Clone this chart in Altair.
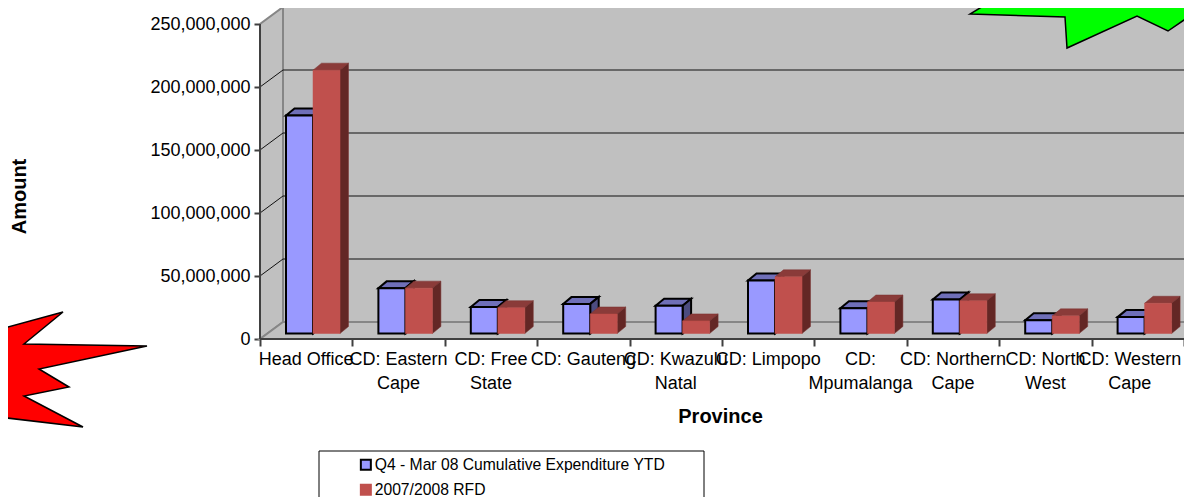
import altair as alt
import pandas as pd

categories = ["Head Office", "CD: Eastern\nCape", "CD: Free\nState", "CD: Gauteng", "CD: Kwazulu\nNatal",
              "CD: Limpopo", "CD:\nMpumalanga", "CD: Northern\nCape", "CD: North\nWest", "CD: Western\nCape"]
expenditure = [173e6, 36e6, 21e6, 23.5e6, 22e6, 42e6, 20e6, 27e6, 10.5e6, 13e6]
rfd = [209e6, 36e6, 20.5e6, 15.5e6, 10e6, 45e6, 25e6, 26e6, 14e6, 24e6]
series_names = ["Q4 - Mar 08 Cumulative Expenditure YTD", "2007/2008 RFD"]
y_ticks = [0, 50e6, 100e6, 150e6, 200e6, 250e6]
x_ticks = list(range(11))

FONT = "Liberation Sans"
PX_CAT = 92.4
PX_VAL = 63 / 50e6
XS = alt.Scale(domain=[0, 10])
YS = alt.Scale(domain=[0, 331 / PX_VAL])
WX, WY = 23 / PX_CAT, 17 / PX_VAL       # wall depth
DX, DY = 8.5 / PX_CAT, 7 / PX_VAL       # bar depth
BASE = 5.5 / PX_VAL
LEFT, BW = 26 / PX_CAT, 27 / PX_CAT
WALL = "#C0C0C0"
EDGE = "#868686"
AXIS = "#404040"

XA = alt.Axis(values=x_ticks, labels=False, domain=False, grid=False, title="Province", titleFont=FONT,
              titleFontSize=20, titleFontWeight="bold", titleColor="black", titleX=460, titleY=67,
              tickColor=AXIS, tickWidth=2, tickSize=7)
YA = alt.Axis(values=y_ticks, labelExpr="format(datum.value, ',')", domain=False, grid=False, title="Amount",
              titleFont=FONT, titleFontSize=20, titleFontWeight="bold", titleColor="black", titleX=-231, titleY=188,
              labelFont=FONT, labelFontSize=18, labelColor="black", tickColor=AXIS, tickWidth=2, tickSize=6,
              labelPadding=4)


def x_(f):
    return alt.X(f, type="quantitative", scale=XS, axis=XA)


def y_(f):
    return alt.Y(f, type="quantitative", scale=YS, axis=YA)


# walls
back = alt.Chart(pd.DataFrame({"x": [WX], "x2": [10 + WX], "y": [WY], "y2": [250e6 + WY]})).mark_rect(
    fill=WALL, stroke=EDGE, strokeWidth=2
).encode(x=x_("x"), x2=alt.X2("x2"), y=y_("y"), y2=alt.Y2("y2"))
side = alt.Chart(pd.DataFrame({"x": [0, WX], "y": [0, WY], "y2": [250e6, 250e6 + WY]})).mark_area(
    orient="vertical", fill=WALL, stroke=EDGE, strokeWidth=2
).encode(x=x_("x"), y=y_("y"), y2=alt.Y2("y2"))
floor = alt.Chart(pd.DataFrame({"y": [0, WY], "x": [0, WX], "x2": [10, 10 + WX]})).mark_area(
    orient="horizontal", fill=WALL, stroke=EDGE, strokeWidth=2
).encode(y=y_("y"), x=x_("x"), x2=alt.X2("x2"))

# gridlines
grid_rows = []
for v in y_ticks[1:-1]:
    grid_rows += [{"v": v, "o": 0, "x": 0, "y": v}, {"v": v, "o": 1, "x": WX, "y": v + WY},
                  {"v": v, "o": 2, "x": 10 + WX, "y": v + WY}]
grid = alt.Chart(pd.DataFrame(grid_rows)).mark_line(color="#111111", strokeWidth=1).encode(
    x=x_("x"), y=y_("y"), detail="v:N", order="o:Q")

# front axis lines
axis_v = alt.Chart(pd.DataFrame({"x": [0], "y": [0], "y2": [250e6]})).mark_rule(color=AXIS, strokeWidth=2).encode(
    x=x_("x"), y=y_("y"), y2=alt.Y2("y2"))
axis_h = alt.Chart(pd.DataFrame({"x": [0], "x2": [10], "y": [0]})).mark_rule(color=AXIS, strokeWidth=2).encode(
    x=x_("x"), x2=alt.X2("x2"), y=y_("y"))


# bars
def faces(values, name, shift, top_c, side_c, sw, stroke):
    tops, sides, fronts = [], [], []
    for i, v in enumerate(values):
        l, r, t = i + LEFT + shift, i + LEFT + shift + BW, BASE + v
        tops += [{"c": i, "y": t, "x": l, "x2": r}, {"c": i, "y": t + DY, "x": l + DX, "x2": r + DX}]
        sides += [{"c": i, "x": r, "y": BASE, "y2": t}, {"c": i, "x": r + DX, "y": BASE + DY, "y2": t + DY}]
        fronts.append({"series": name, "x": l, "x2": r, "y": BASE, "y2": t})
    top = alt.Chart(pd.DataFrame(tops)).mark_area(orient="horizontal", fill=top_c, stroke=stroke, strokeWidth=sw).encode(
        y=y_("y"), x=x_("x"), x2=alt.X2("x2"), detail="c:N")
    sid = alt.Chart(pd.DataFrame(sides)).mark_area(orient="vertical", fill=side_c, stroke=stroke, strokeWidth=sw).encode(
        x=x_("x"), y=y_("y"), y2=alt.Y2("y2"), detail="c:N")
    legend = alt.Legend(title=None, orient="none", legendX=98, legendY=449, symbolType="square", symbolSize=100,
                        symbolStrokeWidth=2, symbolOpacity=1, labelFont=FONT, labelFontSize=15.7, labelColor="black",
                        labelLimit=400, rowPadding=6, labelOffset=1, padding=0)
    front = alt.Chart(pd.DataFrame(fronts)).mark_rect(strokeWidth=sw, opacity=1).encode(
        x=x_("x"), x2=alt.X2("x2"), y=y_("y"), y2=alt.Y2("y2"),
        fill=alt.Fill("series:N", scale=alt.Scale(domain=series_names, range=["#9999FF", "#C0504D"]), legend=legend),
        stroke=alt.Stroke("series:N", scale=alt.Scale(domain=series_names, range=["#000000", "#C0504D"]), legend=legend))
    return [top, sid, front]


blue = faces(expenditure, series_names[0], 0, "#6F6FB8", "#4C4C80", 2, "#000000")
red = faces(rfd, series_names[1], BW, "#8A3B39", "#632725", 0.5, "#7A3331")

# category labels (the last one is nudged in so that it stays inside the page)
cat_df = pd.DataFrame({"x": [i + 0.5 for i in range(10)], "t": categories})
cat_style = dict(font=FONT, fontSize=18, color="black", baseline="top", align="center", lineBreak="\n", lineHeight=24)
cat = alt.Chart(cat_df.iloc[:-1]).mark_text(**cat_style).encode(x=x_("x"), y=alt.value(343), text="t:N")
cat_last = alt.Chart(cat_df.iloc[-1:]).mark_text(dx=-8, **cat_style).encode(x=x_("x"), y=alt.value(343), text="t:N")

# legend box
box = alt.Chart(pd.DataFrame({"a": [1]})).mark_rect(fill="white", stroke="black", strokeWidth=1).encode(
    x=alt.value(59), x2=alt.value(444), y=alt.value(443), y2=alt.value(520))

# decorative stars
R = "M-170,-66 L-97,-86 L-136,-54 L-13,-52 L-121,-29 L-91,-11 L-136,-2 L-77,29 L-170,18 Z"
G = "M-230,14 L-135,17 L-133,48 L-63,16 L-32,31 L0,9 L0,-10 L-190,-10 Z"
red_star = alt.Chart(pd.DataFrame({"a": [1]})).mark_point(
    shape=R, size=4, filled=True, fill="#FF0000", stroke="black", strokeWidth=1.5, opacity=1
).encode(x=alt.value(160 - 260), y=alt.value(398 - 8))
green_star = alt.Chart(pd.DataFrame({"a": [1]})).mark_point(
    shape=G, size=4, filled=True, fill="#00FF00", stroke="black", strokeWidth=1.5, opacity=1
).encode(x=alt.value(1200 - 260), y=alt.value(-8))

chart = alt.layer(
    back, side, floor, grid, axis_v, axis_h, *blue, *red, cat, cat_last, box, red_star, green_star
).resolve_scale(fill="shared", stroke="shared").properties(
    width=924, height=331, background="white",
    padding={"left": 252, "top": 0, "right": 0, "bottom": 158},
    autosize=alt.AutoSizeParams(type="none")
).configure_view(stroke=None)

chart.save("out.html", embed_options={"renderer": "svg", "actions": False})
